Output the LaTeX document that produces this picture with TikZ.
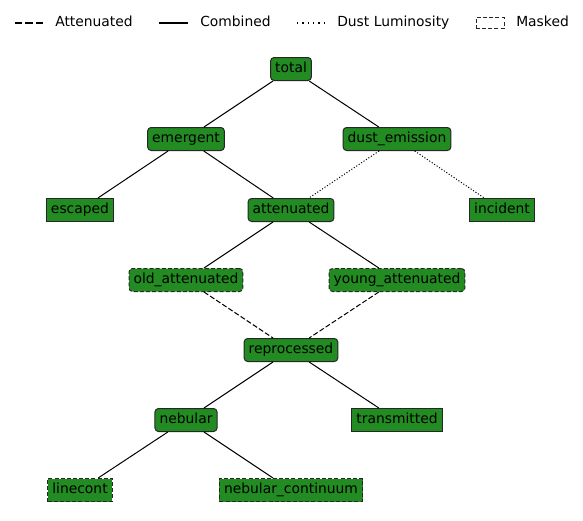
\documentclass[tikz,border=0pt]{standalone}
\usepackage{fontspec}
\setmainfont{DejaVu Sans}
\definecolor{forest}{HTML}{228B22}
\tikzset{
  box/.style={draw=black!85, fill=forest, line width=0.75pt, inner xsep=3.4pt,
    inner ysep=0pt, minimum height=17.25pt, text height=7.4pt, text depth=2.5pt,
    font=\fontsize{10.4}{12}\selectfont},
  group/.style={box, rounded corners=2.6pt},
  masked/.style={dash pattern=on 3pt off 1.6pt},
  comb/.style={line width=0.75pt},
  atten/.style={line width=0.75pt, dash pattern=on 3.8pt off 1.7pt},
  dust/.style={line width=0.75pt, dash pattern=on 0.8pt off 1.4pt},
  legtext/.style={anchor=west, inner sep=0pt, text height=7.4pt, text depth=2.5pt,
    font=\fontsize{10.4}{12}\selectfont}
}
\begin{document}
\begin{tikzpicture}[x=0.75pt, y=-0.75pt]
  \useasboundingbox (0,0) rectangle (583,521);
  % nodes, one row per level
  \node[group] (total) at (291,69) {total};
  \node[group] (emergent) at (186,139) {emergent};
  \node[group] (dust_emission) at (397,139) {dust\_emission};
  \node[box] (escaped) at (80,210) {escaped};
  \node[group] (attenuated) at (291,210) {attenuated};
  \node[box] (incident) at (502,210) {incident};
  \node[group, masked] (old_attenuated) at (186,280) {old\_attenuated};
  \node[group, masked] (young_attenuated) at (397,280) {young\_attenuated};
  \node[group] (reprocessed) at (291,350) {reprocessed};
  \node[group] (nebular) at (186,420) {nebular};
  \node[box] (transmitted) at (397,420) {transmitted};
  \node[box, masked] (linecont) at (80,490) {linecont};
  \node[box, masked] (nebular_continuum) at (291,490) {nebular\_continuum};
  % connectors
  \draw[comb] (total) -- (emergent);
  \draw[comb] (total) -- (dust_emission);
  \draw[comb] (emergent) -- (escaped);
  \draw[comb] (emergent) -- (attenuated);
  \draw[dust] (dust_emission) -- (attenuated);
  \draw[dust] (dust_emission) -- (incident);
  \draw[comb] (attenuated) -- (old_attenuated);
  \draw[comb] (attenuated) -- (young_attenuated);
  \draw[atten] (old_attenuated) -- (reprocessed);
  \draw[atten] (young_attenuated) -- (reprocessed);
  \draw[comb] (reprocessed) -- (nebular);
  \draw[comb] (reprocessed) -- (transmitted);
  \draw[comb] (nebular) -- (linecont);
  \draw[comb] (nebular) -- (nebular_continuum);
  % legend
  \coordinate (la) at (15,23); \coordinate (lb) at (43,23);
  \draw[line width=1.1pt, dash pattern=on 5.4pt off 2.4pt] (la) -- (lb);
  \node[legtext] (latt) at (55,23) {Attenuated};
  \coordinate (lc) at (159,23); \coordinate (ld) at (188,23);
  \draw[comb, line width=1.1pt] (lc) -- (ld);
  \node[legtext] (lcomb) at (200,23) {Combined};
  \coordinate (le) at (297,23); \coordinate (lf) at (325,23);
  \draw[line width=1.1pt, dash pattern=on 1.1pt off 2.9pt] (le) -- (lf);
  \node[legtext] (ldust) at (337,23) {Dust Luminosity};
  \node[draw=black!85, fill=white, masked, line width=0.75pt, minimum width=21pt,
    minimum height=7.8pt, inner sep=0pt] (lmask) at (490,23) {};
  \node[legtext] (lmasked) at (516,23) {Masked};
\end{tikzpicture}
\end{document}
